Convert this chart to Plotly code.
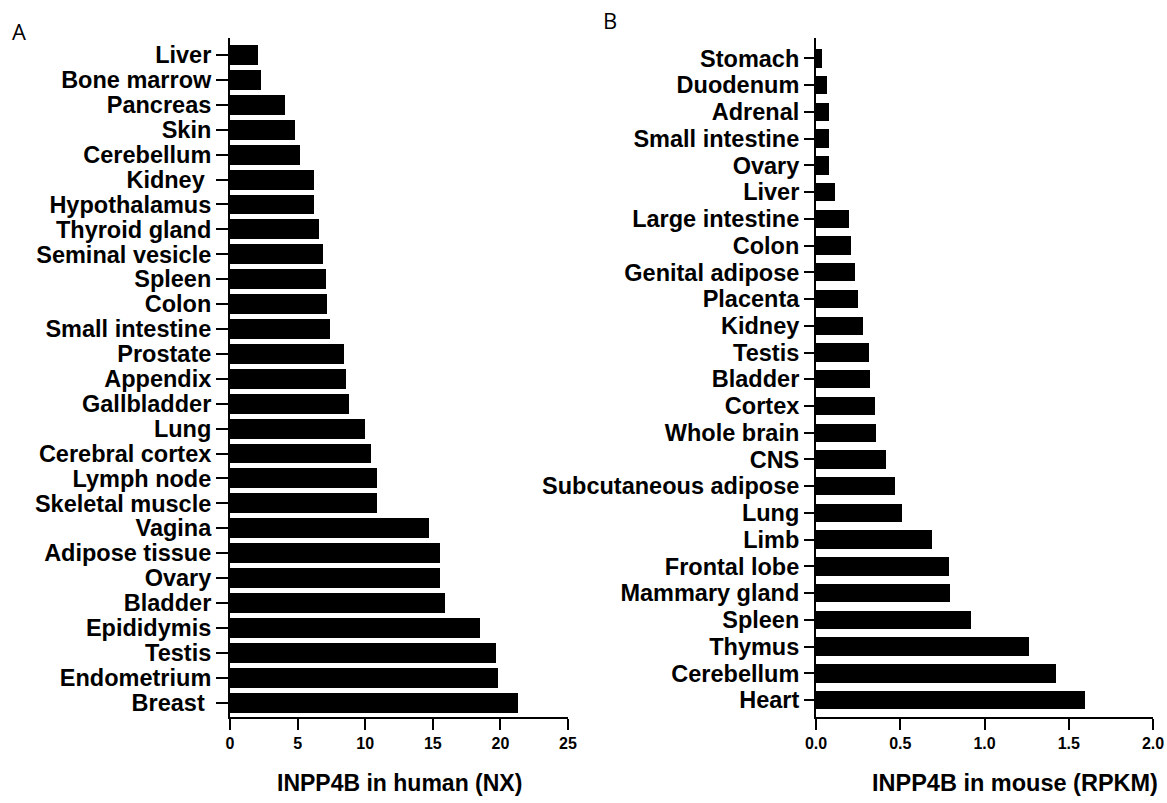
import plotly.graph_objects as go

human_tissues = ["Liver", "Bone marrow", "Pancreas", "Skin", "Cerebellum", "Kidney",
                 "Hypothalamus", "Thyroid gland", "Seminal vesicle", "Spleen", "Colon",
                 "Small intestine", "Prostate", "Appendix", "Gallbladder", "Lung",
                 "Cerebral cortex", "Lymph node", "Skeletal muscle", "Vagina",
                 "Adipose tissue", "Ovary", "Bladder", "Epididymis", "Testis",
                 "Endometrium", "Breast"]
human_nx = [2.1, 2.3, 4.1, 4.8, 5.2, 6.2, 6.2, 6.6, 6.9, 7.1, 7.2, 7.4, 8.4, 8.6, 8.8,
            10.0, 10.4, 10.9, 10.9, 14.7, 15.5, 15.5, 15.9, 18.5, 19.7, 19.8, 21.3]
human_ticklabels = [t + "\u00a0" if t in ("Kidney", "Breast") else t for t in human_tissues]

mouse_tissues = ["Stomach", "Duodenum", "Adrenal", "Small intestine", "Ovary", "Liver",
                 "Large intestine", "Colon", "Genital adipose", "Placenta", "Kidney",
                 "Testis", "Bladder", "Cortex", "Whole brain", "CNS",
                 "Subcutaneous adipose", "Lung", "Limb", "Frontal lobe",
                 "Mammary gland", "Spleen", "Thymus", "Cerebellum", "Heart"]
mouse_rpkm = [0.033, 0.066, 0.075, 0.075, 0.075, 0.115, 0.194, 0.21, 0.232, 0.247,
              0.278, 0.314, 0.318, 0.349, 0.354, 0.415, 0.466, 0.508, 0.687, 0.789,
              0.793, 0.92, 1.264, 1.425, 1.596]

human_xticks = [0, 5, 10, 15, 20, 25]
mouse_xticks = [0.0, 0.5, 1.0, 1.5, 2.0]
mouse_xticktext = ["0.0", "0.5", "1.0", "1.5", "2.0"]

W, H = 1167, 803
FONT = "Liberation Sans"

fig = go.Figure()
fig.add_trace(go.Bar(x=human_nx, y=human_tissues, orientation="h",
                     marker=dict(color="black", line=dict(width=0)), width=0.8,
                     xaxis="x", yaxis="y", showlegend=False))
fig.add_trace(go.Bar(x=mouse_rpkm, y=mouse_tissues, orientation="h",
                     marker=dict(color="black", line=dict(width=0)), width=0.69,
                     xaxis="x2", yaxis="y2", showlegend=False))

n_h = len(human_tissues)
n_m = len(mouse_tissues)

axis_common = dict(showline=True, linecolor="black", linewidth=2, ticks="outside",
                   tickcolor="black", tickwidth=2, showgrid=False, zeroline=False,
                   automargin=False)

fig.update_layout(
    width=W, height=H, autosize=False,
    margin=dict(l=0, r=0, t=0, b=0, pad=0, autoexpand=False),
    paper_bgcolor="white", plot_bgcolor="white",
    bargap=0,
    xaxis=dict(domain=[230 / W, 568 / W], range=[0, 25], tickmode="array",
               tickvals=human_xticks, ticklen=11,
               tickfont=dict(family=FONT, size=16, weight="bold", color="black"),
               anchor="y", **axis_common),
    yaxis=dict(domain=[1 - 717 / H, 1 - 38 / H], range=[n_h - 1 + 0.58, -0.685],
               tickmode="array", tickvals=human_tissues, ticktext=human_ticklabels,
               ticklen=12,
               tickfont=dict(family=FONT, size=23.5, weight="bold", color="black"),
               anchor="x", **axis_common),
    xaxis2=dict(domain=[816 / W, 1153 / W], range=[0, 2.0], tickmode="array",
                tickvals=mouse_xticks, ticktext=mouse_xticktext, ticklen=11,
                tickfont=dict(family=FONT, size=16, weight="bold", color="black"),
                anchor="y2", **axis_common),
    yaxis2=dict(domain=[1 - 717 / H, 1 - 38 / H], range=[n_m - 1 + 0.63, -0.76],
                tickmode="array", tickvals=mouse_tissues, ticktext=mouse_tissues,
                ticklen=10,
                tickfont=dict(family=FONT, size=23.5, weight="bold", color="black"),
                anchor="x2", **axis_common),
    annotations=[
        dict(text="INPP4B in human (NX)", x=399 / W, y=1 - 783 / H, xref="paper", yref="paper",
             xanchor="center", yanchor="middle", showarrow=False,
             font=dict(family=FONT, size=23, weight="bold", color="black")),
        dict(text="INPP4B in mouse (RPKM)", x=1015 / W, y=1 - 783 / H, xref="paper", yref="paper",
             xanchor="center", yanchor="middle", showarrow=False,
             font=dict(family=FONT, size=23.5, weight="bold", color="black")),
        dict(text="A", x=19 / W, y=1 - 31 / H, xref="paper", yref="paper",
             xanchor="center", yanchor="middle", showarrow=False,
             font=dict(family="Open Sans", size=22, color="black")),
        dict(text="B", x=610 / W, y=1 - 20 / H, xref="paper", yref="paper",
             xanchor="center", yanchor="middle", showarrow=False,
             font=dict(family="Open Sans", size=22, color="black")),
    ],
)

fig.write_html("out.html", config={"responsive": False, "displayModeBar": False},
               post_script="document.body.style.margin='0';document.body.style.overflow='hidden';")
